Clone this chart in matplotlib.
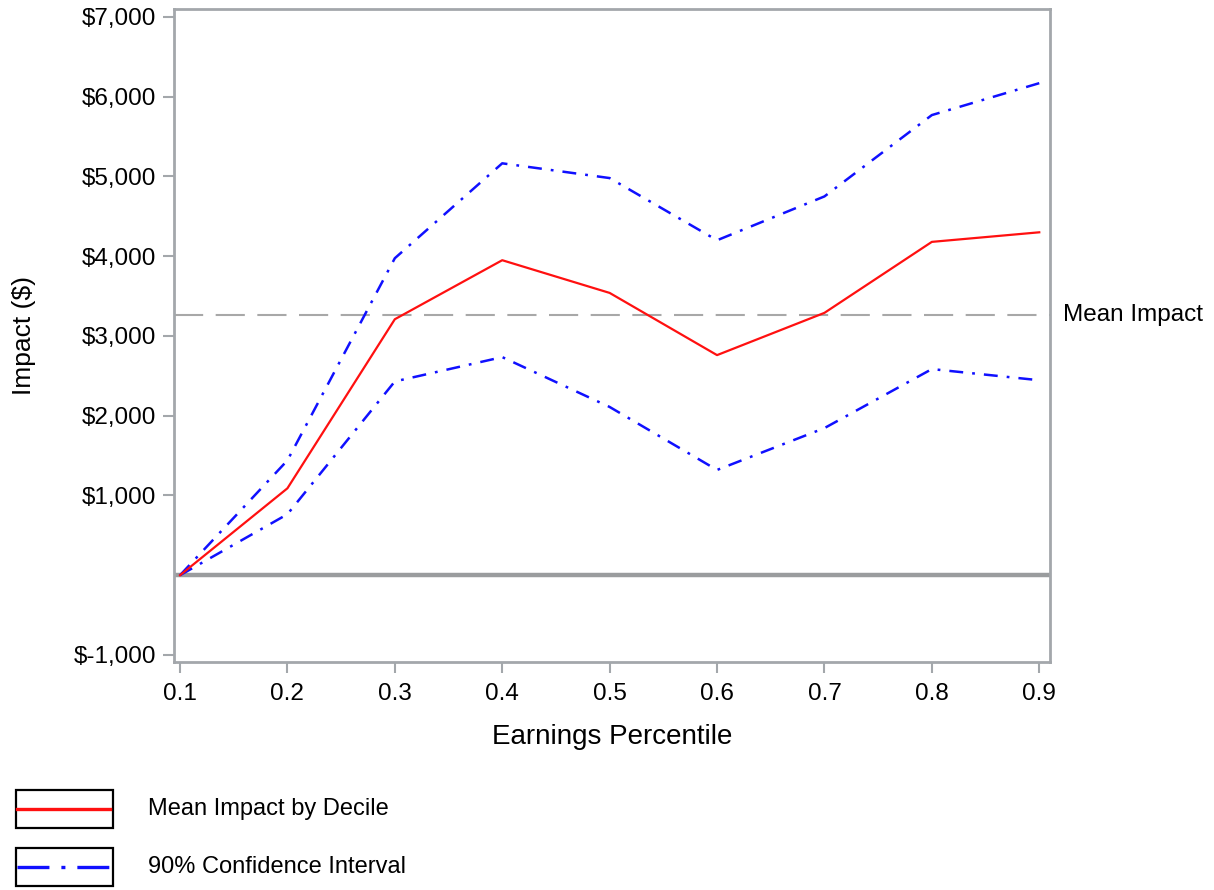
import matplotlib
matplotlib.use("Agg")
import matplotlib.pyplot as plt
from matplotlib.patches import Rectangle
from matplotlib.lines import Line2D
from matplotlib.ticker import FuncFormatter

plt.rcParams["font.family"] = ["Liberation Sans", "DejaVu Sans"]
plt.rcParams["lines.scale_dashes"] = False

percentile = [0.1, 0.2, 0.3, 0.4, 0.5, 0.6, 0.7, 0.8, 0.9]
mean_impact = [0, 1090, 3210, 3950, 3540, 2760, 3290, 4180, 4300]
ci_upper = [0, 1440, 3975, 5165, 4980, 4200, 4750, 5770, 6170]
ci_lower = [0, 765, 2430, 2735, 2110, 1320, 1845, 2585, 2445]
overall_mean = 3260
y_ticks = [-1000, 1000, 2000, 3000, 4000, 5000, 6000, 7000]
x_ticks = [0.1, 0.2, 0.3, 0.4, 0.5, 0.6, 0.7, 0.8, 0.9]

axis_gray = "#a3a7ab"
W, H = 1214, 890
fig = plt.figure(figsize=(W / 100, H / 100), dpi=100)
ax = fig.add_axes([174 / W, 1 - 662 / H, 876 / W, 653 / H])

ax.axhline(0, color="#9a9c9e", lw=3.2, zorder=1)
ax.axhline(overall_mean, color="#a8a8a8", lw=1.5, dashes=(21, 9), zorder=1)
ax.plot(percentile, ci_upper, color="#1010ff", lw=1.8, dashes=(10, 6.5, 2, 6.5), zorder=2)
ax.plot(percentile, ci_lower, color="#1010ff", lw=1.8, dashes=(10, 6.5, 2, 6.5), zorder=2)
ax.plot(percentile, mean_impact, color="#ff1010", lw=1.6, zorder=3)

ax.set_xlim(0.0944, 0.910)
ax.set_ylim(-1088, 7100)
ax.set_xticks(x_ticks)
ax.set_xticklabels([f"{v:.1f}" for v in x_ticks])
ax.set_yticks(y_ticks)
ax.yaxis.set_major_formatter(FuncFormatter(lambda v, p: f"${int(v):,}"))
ax.tick_params(axis="both", direction="out", length=8, width=1.5, color=axis_gray,
               labelsize=17.5, pad=5)
ax.tick_params(axis="x", pad=7)
for s in ax.spines.values():
    s.set_color(axis_gray)
    s.set_linewidth(2)

ax.set_xlabel("Earnings Percentile", fontsize=20, labelpad=14)
ax.set_ylabel("Impact ($)", fontsize=19, labelpad=27)
ax.text(1.015, overall_mean, "Mean Impact", transform=ax.get_yaxis_transform(),
        fontsize=17.5, va="center", ha="left")

# legend boxes drawn below the plot
entries = [
    ("Mean Impact by Decile", "#ff1010", None, 809),
    ("90% Confidence Interval", "#1010ff", (23, 8.6, 2.9, 8.6), 867),
]
for label, color, dash, yc in entries:
    fig.add_artist(Rectangle((16 / W, 1 - (yc + 19) / H), 97 / W, 38 / H,
                             transform=fig.transFigure, fill=False,
                             edgecolor="black", lw=1.6))
    ln = Line2D([17 / W, 110 / W], [1 - yc / H, 1 - yc / H], transform=fig.transFigure,
                color=color, lw=2.4)
    if dash:
        ln.set_dashes(dash)
    fig.add_artist(ln)
    fig.text(148 / W, 1 - yc / H, label, fontsize=17, va="center", ha="left")

fig.savefig("out.png", dpi=100)
